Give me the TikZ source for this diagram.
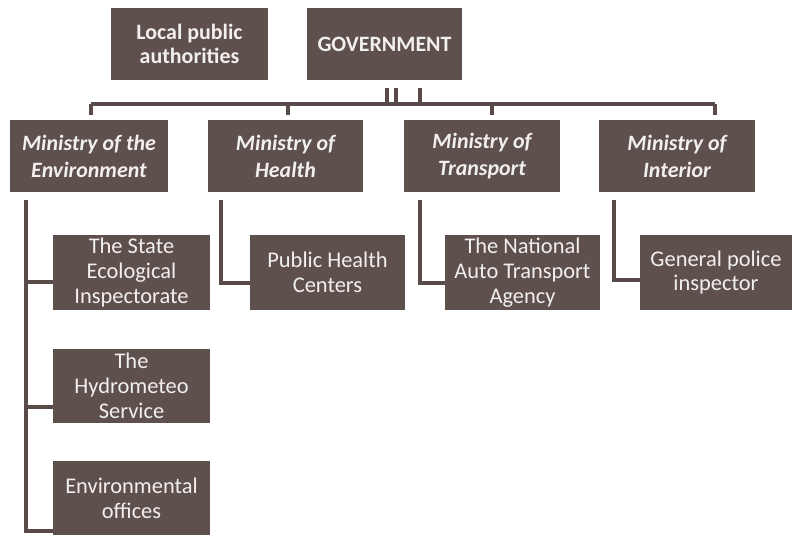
\documentclass[tikz,border=0pt]{standalone}
\usepackage{fontspec}
\setmainfont{Carlito}
\definecolor{boxfill}{HTML}{5E504D}
\definecolor{linecol}{HTML}{594B49}
\definecolor{txt}{HTML}{F2F0EE}
\begin{document}
\begin{tikzpicture}[x=1bp,y=-1bp,
  box/.style={rectangle,fill=boxfill,text=txt,align=center,inner sep=0pt,
    font=\fontsize{22.5}{25}\selectfont},
  topbox/.style={box,font=\fontsize{22}{24.5}\selectfont\bfseries},
  minbox/.style={box,font=\fontsize{22}{27}\selectfont\bfseries\itshape},
  link/.style={draw=linecol,line width=4bp}]
\useasboundingbox (0,0) rectangle (792,536);
% top
\node[topbox,minimum width=157bp,minimum height=72bp] (local) at (189.5,44) {Local public\\authorities};
\node[topbox,minimum width=155bp,minimum height=72bp] (gov) at (384.5,44) {GOVERNMENT};
% ministries
\node[minbox,minimum width=158bp,minimum height=72bp] (env) at (89,156) {Ministry of the\\Environment};
\node[minbox,minimum width=155bp,minimum height=72bp] (health) at (285.5,156) {Ministry of\\Health};
\node[minbox,minimum width=156bp,minimum height=72bp] (transp) at (482,156) {Ministry of\\Transport};
\node[minbox,minimum width=156bp,minimum height=72bp] (inter) at (677,156) {Ministry of\\Interior};
% agencies
\node[box,minimum width=157bp,minimum height=75bp] (state) at (131.5,272.5) {The State\\Ecological\\Inspectorate};
\node[box,minimum width=155bp,minimum height=75bp] (phc) at (327.5,272.5) {Public Health\\Centers};
\node[box,minimum width=155bp,minimum height=75bp] (nat) at (522.5,272.5) {The National\\Auto Transport\\Agency};
\node[box,minimum width=152bp,minimum height=75bp] (pol) at (716,272.5) {General police\\inspector};
\node[box,minimum width=157bp,minimum height=74bp] (hydro) at (131.5,386) {The\\Hydrometeo\\Service};
\node[box,minimum width=157bp,minimum height=74bp] (envoff) at (131.5,498) {Environmental\\offices};
% bus
\coordinate (busL) at (91,104);
\coordinate (busR) at (715,104);
\draw[link] (busL) -- (busR);
\foreach \x in {387,396,420} \draw[link] (\x,88) -- (\x,104);
\foreach \x in {91,288,492,715} \draw[link] (\x,104) -- (\x,115);
% environment branch
\coordinate (e0) at (26,200);
\coordinate (e3) at (26,531);
\draw[link] (e0) -- (e3) -- (state.west |- e3) ;
\draw[link] (26,282) -- (state.west |- 0,282);
\draw[link] (26,407) -- (hydro.west |- 0,407);
% other branches
\draw[link] (221,200) -- (221,283) -- (phc.west |- 0,283);
\draw[link] (420,200) -- (420,283) -- (nat.west |- 0,283);
\draw[link] (614,200) -- (614,280) -- (pol.west |- 0,280);
\end{tikzpicture}
\end{document}
